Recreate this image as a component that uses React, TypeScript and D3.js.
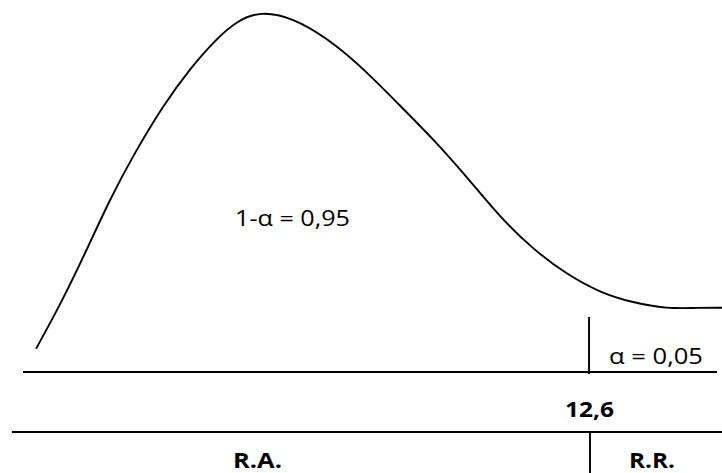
import React from "react";
import * as d3 from "d3";

// Curve of the distribution (x in statistic units, y in relative density)
const curveX = [0, 0.615, 1.162, 1.686, 2.21, 2.894, 3.509, 4.124, 4.58, 5.104, 5.856, 6.63, 7.382, 8.293, 9.045, 9.82, 10.572, 11.324, 12.098, 12.85, 13.602, 14.377, 15.06, 15.63];
const curveY = [0.064, 0.201, 0.34, 0.479, 0.599, 0.738, 0.841, 0.925, 0.972, 1.0, 0.981, 0.925, 0.85, 0.738, 0.646, 0.54, 0.429, 0.34, 0.27, 0.22, 0.192, 0.175, 0.178, 0.178];

const criticalValue = 12.6;
const criticalLabel = "12,6";
const acceptLabel = "1-α = 0,95";
const alphaLabel = "α = 0,05";
const regionLabels = ["R.A.", "R.R."];

const W = 722;
const H = 473;

export default function App() {
  const x = d3.scaleLinear().domain([0, 15.63]).range([36, 722]);
  const y = d3.scaleLinear().domain([0, 1]).range([372, 11]);
  const pts: [number, number][] = curveX.map((v, i) => [v, curveY[i]]);
  const line = d3
    .line<[number, number]>()
    .x((d) => x(d[0]))
    .y((d) => y(d[1]))
    .curve(d3.curveBasis);
  const cx = x(criticalValue);
  const font = "'Open Sans', 'Noto Sans', sans-serif";
  return (
    <svg
      width={W}
      height={H}
      style={{ position: "absolute", left: 0, top: 0, background: "#fff" }}
    >
      <rect x={0} y={0} width={W} height={H} fill="#fff" />
      <path d={line(pts) || ""} fill="none" stroke="#000" strokeWidth={1.9} />
      {/* upper baseline */}
      <line x1={23} x2={717} y1={372} y2={372} stroke="#000" strokeWidth={1.9} />
      {/* lower line */}
      <line x1={12} x2={722} y1={432} y2={432} stroke="#000" strokeWidth={1.9} />
      {/* critical value markers */}
      <line x1={cx} x2={cx} y1={317} y2={374} stroke="#000" strokeWidth={1.9} />
      <line x1={cx + 1} x2={cx + 1} y1={431} y2={473} stroke="#000" strokeWidth={1.9} />
      <text x={235} y={226} fontFamily={font} fontSize={22} textLength={115} lengthAdjust="spacingAndGlyphs" fill="#000">
        {acceptLabel}
      </text>
      <text x={609} y={364} fontFamily={font} fontSize={22} textLength={94} lengthAdjust="spacingAndGlyphs" fill="#000">
        {alphaLabel}
      </text>
      <text x={565} y={417} fontFamily={font} fontSize={22} fontWeight="bold" textLength={49} lengthAdjust="spacingAndGlyphs" fill="#000">
        {criticalLabel}
      </text>
      <text x={233} y={468} fontFamily={font} fontSize={22} fontWeight="bold" textLength={49} lengthAdjust="spacingAndGlyphs" fill="#000">
        {regionLabels[0]}
      </text>
      <text x={629} y={468} fontFamily={font} fontSize={22} fontWeight="bold" textLength={46} lengthAdjust="spacingAndGlyphs" fill="#000">
        {regionLabels[1]}
      </text>
    </svg>
  );
}
